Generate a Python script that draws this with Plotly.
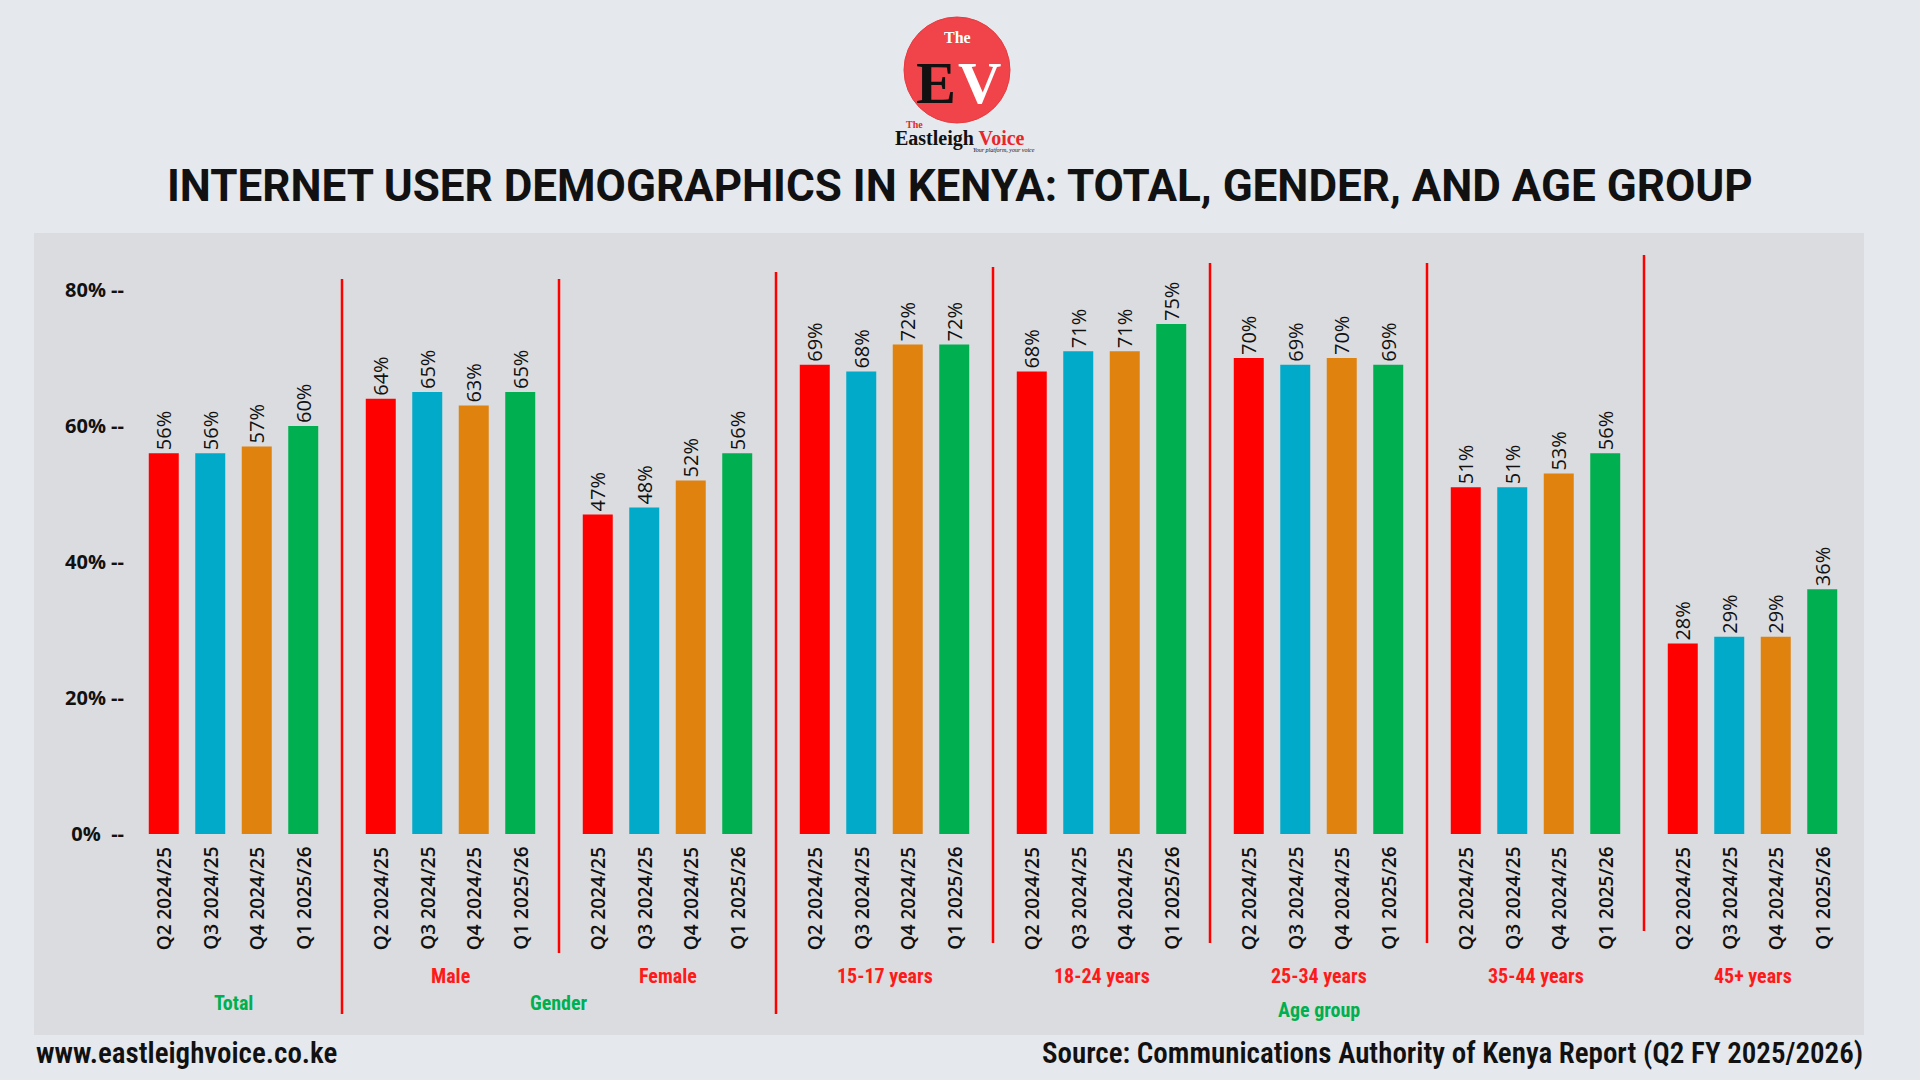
import plotly.graph_objects as go

# ---------------- data ----------------
groups = ["Total", "Male", "Female", "15-17 years", "18-24 years",
          "25-34 years", "35-44 years", "45+ years"]
quarters = ["Q2 2024/25", "Q3 2024/25", "Q4 2024/25", "Q1 2025/26"]
values = {
    "Q2 2024/25": [56, 64, 47, 69, 68, 70, 51, 28],
    "Q3 2024/25": [56, 65, 48, 68, 71, 69, 51, 29],
    "Q4 2024/25": [57, 63, 52, 72, 71, 70, 53, 29],
    "Q1 2025/26": [60, 65, 56, 72, 75, 69, 56, 36],
}
quarter_colors = ["#ff0000", "#00aac8", "#e0820e", "#00b050"]
y_ticks = [0, 20, 40, 60, 80]
y_ticktext = ["0%  --", "20% --", "40% --", "60% --", "80% --"]
super_groups = [("Total", [0]), ("Gender", [1, 2]), ("Age group", [3, 4, 5, 6, 7])]

# ---------------- layout constants ----------------
W, H = 1920, 1080
ML, MR, MT, MB = 125, 59, 256, 246
PW, PH = W - ML - MR, H - MT - MB
BARGAP, GROUPGAP = 0.143, 0.355
COND = "Roboto Condensed, Liberation Sans Narrow, Roboto, sans-serif"
SERIF = "Liberation Serif, DejaVu Serif, serif"


def px(x):
    return (x - ML) / PW


def py(y):
    return (H - MB - y) / PH


fig = go.Figure()
for qi, q in enumerate(quarters):
    fig.add_trace(go.Bar(
        x=groups, y=values[q], name=q,
        marker=dict(color=quarter_colors[qi], line=dict(width=0)),
        text=[f"{v}%" for v in values[q]],
        textposition="outside", textangle=-90, constraintext="none",
        cliponaxis=False,
        textfont=dict(family="Open Sans, Roboto, sans-serif", size=20, color="#111111", weight=500),
    ))

annotations = []
shapes = []

# panel background
shapes.append(dict(type="rect", xref="paper", yref="paper", layer="below",
                   x0=px(34), x1=px(1864), y0=py(1035), y1=py(233),
                   fillcolor="#dbdcdf", line=dict(width=0)))

# quarter labels beneath each bar
slot = (1 - BARGAP) / len(quarters)
for gi, g in enumerate(groups):
    for qi, q in enumerate(quarters):
        off = -(1 - BARGAP) / 2 + (qi + 0.5) * slot
        annotations.append(dict(
            x=gi + off, xref="x", y=0, yref="paper", yshift=-11,
            text=q, textangle=-90, showarrow=False,
            xanchor="center", yanchor="top",
            font=dict(family="Open Sans, Roboto, sans-serif", size=19, color="#111111", weight=600)))

# group labels (red)
for gi, g in enumerate(groups):
    if g == "Total":
        continue
    annotations.append(dict(
        x=gi, xref="x", y=0, yref="paper", yshift=-(976 - (H - MB)),
        text=f"<b>{g}</b>", showarrow=False, xanchor="center", yanchor="middle",
        font=dict(family=COND, size=20, color="#ff1a1a")))

# super-group labels (green)
sg_y = {"Total": 1003, "Gender": 1003, "Age group": 1010}
for name, idx in super_groups:
    annotations.append(dict(
        x=(idx[0] + idx[-1]) / 2, xref="x", y=0, yref="paper",
        yshift=-(sg_y[name] - (H - MB)),
        text=f"<b>{name}</b>", showarrow=False, xanchor="center", yanchor="middle",
        font=dict(family=COND, size=20, color="#00b050")))

# red divider lines between groups
divider_extent = [(279, 1014), (279, 953), (272, 1014), (267, 943),
                  (263, 943), (263, 943), (255, 931)]
for i, (top, bot) in enumerate(divider_extent):
    shapes.append(dict(type="line", xref="x", yref="paper",
                       x0=i + 0.5, x1=i + 0.5, y0=py(bot), y1=py(top),
                       line=dict(color="#ff0000", width=2.5)))

# ---------------- logo ----------------
shapes.append(dict(type="circle", xref="paper", yref="paper",
                   x0=px(904), x1=px(1010), y0=py(123), y1=py(17),
                   fillcolor="#f0434a", line=dict(color="#e83a40", width=1)))


def logo_text(x, y, text, size, color, family=SERIF):
    return dict(x=px(x), y=py(y), xref="paper", yref="paper", text=text,
                showarrow=False, xanchor="center", yanchor="middle",
                font=dict(family=family, size=size, color=color))


annotations += [
    logo_text(957, 37, "<b>The</b>", 16, "white"),
    logo_text(936, 83, "<b>E</b>", 60, "#111111"),
    logo_text(979, 83, "<b>V</b>", 60, "white"),
    logo_text(914, 125, "<b>The</b>", 10, "#e8262b"),
    logo_text(960, 138, "<b>Eastleigh <span style='color:#e8262b'>Voice</span></b>", 20, "#111111"),
    logo_text(1004, 150, "<i>Your platform, your voice</i>", 6, "#111111"),
]

# ---------------- title & footer ----------------
annotations += [
    dict(x=px(960), y=py(186), xref="paper", yref="paper",
         text="<b>INTERNET USER DEMOGRAPHICS IN KENYA: TOTAL, GENDER, AND AGE GROUP</b>",
         showarrow=False, xanchor="center", yanchor="middle",
         font=dict(family="Roboto, sans-serif", size=44, color="#111111")),
    dict(x=px(34), y=py(1053), xref="paper", yref="paper", text="www.eastleighvoice.co.ke",
         showarrow=False, xanchor="left", yanchor="middle",
         font=dict(family=COND, size=29, color="#111111", weight=600)),
    dict(x=px(1865), y=py(1053), xref="paper", yref="paper",
         text="Source: Communications Authority of Kenya Report (Q2 FY 2025/2026)",
         showarrow=False, xanchor="right", yanchor="middle",
         font=dict(family=COND, size=29, color="#111111", weight=600)),
]

fig.update_layout(
    width=W, height=H,
    margin=dict(l=ML, r=MR, t=MT, b=MB),
    paper_bgcolor="#e5e8ec", plot_bgcolor="rgba(0,0,0,0)",
    barmode="group", bargap=BARGAP, bargroupgap=GROUPGAP,
    showlegend=False,
    annotations=annotations, shapes=shapes,
    xaxis=dict(showticklabels=False, showgrid=False, zeroline=False, showline=False, ticks=""),
    yaxis=dict(range=[0, 85], tickvals=y_ticks, ticktext=y_ticktext, showgrid=False,
               zeroline=False, showline=False, ticks="",
               tickfont=dict(family="Open Sans, Roboto, sans-serif", size=20, color="#111111", weight="bold")),
)

fig.write_html("out.html")
